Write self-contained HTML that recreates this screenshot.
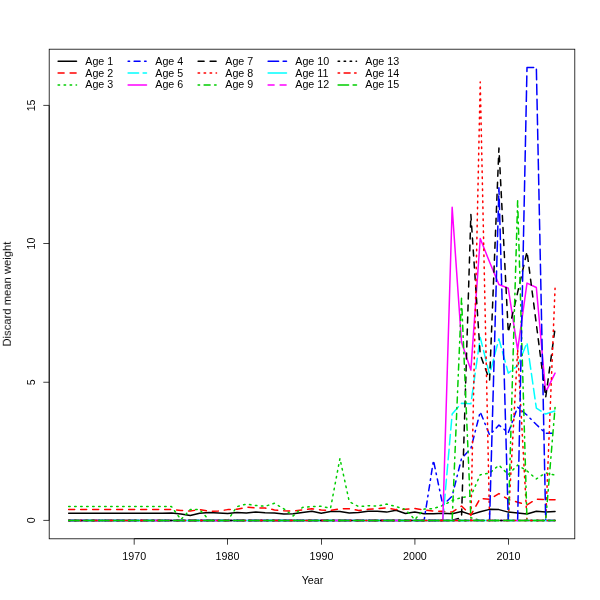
<!DOCTYPE html>
<html><head><meta charset="utf-8"><style>
html,body{margin:0;padding:0;background:#fff;}
svg{display:block;}
text{font-family:"Liberation Sans",sans-serif;font-size:10.7px;fill:#000;}
.t{opacity:0.999;}
</style></head><body>
<svg width="600" height="600" viewBox="0 0 600 600">
<rect width="600" height="600" fill="#fff"/>
<g fill="none" stroke-width="1.5" stroke-linecap="round" stroke-linejoin="round">
<polyline points="68.65,513.22 78.00,513.22 87.36,513.22 96.71,513.22 106.07,513.22 115.42,513.22 124.77,513.22 134.13,513.22 143.48,513.22 152.84,513.22 162.19,513.22 171.54,512.94 180.90,514.05 190.25,515.43 199.61,513.22 208.96,512.39 218.31,512.94 227.67,513.49 237.02,512.39 246.38,512.94 255.73,512.11 265.08,512.66 274.44,512.94 283.79,514.05 293.15,513.77 302.50,512.39 311.85,511.28 321.21,513.22 330.56,511.56 339.92,511.56 349.27,512.94 358.62,512.39 367.98,511.28 377.33,511.28 386.69,512.11 396.04,510.18 405.39,513.49 414.75,512.11 424.10,513.77 433.46,513.77 442.81,513.22 452.16,513.77 461.52,511.56 470.87,514.60 480.23,511.83 489.58,509.35 498.93,509.62 508.29,512.11 517.64,512.94 527.00,514.05 536.35,511.28 545.70,512.11 555.06,511.56" stroke="#000000"/>
<polyline points="68.65,509.62 78.00,509.62 87.36,509.62 96.71,509.62 106.07,509.62 115.42,509.62 124.77,509.62 134.13,509.62 143.48,509.62 152.84,509.62 162.19,509.62 171.54,509.62 180.90,510.45 190.25,511.01 199.61,509.62 208.96,511.28 218.31,511.01 227.67,509.62 237.02,509.35 246.38,507.14 255.73,507.97 265.08,507.97 274.44,509.90 283.79,510.73 293.15,511.01 302.50,509.90 311.85,508.80 321.21,509.90 330.56,510.45 339.92,508.80 349.27,508.80 358.62,510.45 367.98,509.35 377.33,508.52 386.69,507.97 396.04,509.62 405.39,509.35 414.75,508.52 424.10,509.90 433.46,511.01 442.81,511.28 452.16,512.11 461.52,506.03 470.87,515.15 480.23,498.30 489.58,499.40 498.93,493.60 508.29,499.40 517.64,502.16 527.00,504.93 536.35,499.12 545.70,499.68 555.06,499.68" stroke="#FF0000" stroke-dasharray="6 6"/>
<polyline points="68.65,506.58 78.00,506.58 87.36,506.58 96.71,506.58 106.07,506.58 115.42,506.58 124.77,506.58 134.13,506.58 143.48,506.58 152.84,506.58 162.19,506.58 171.54,506.58 180.90,519.57 190.25,509.62 199.61,509.62 208.96,519.85 218.31,520.40 227.67,520.40 237.02,506.58 246.38,504.10 255.73,505.48 265.08,506.31 274.44,503.27 283.79,508.80 293.15,515.98 302.50,507.41 311.85,506.58 321.21,506.31 330.56,508.24 339.92,458.51 349.27,501.61 358.62,506.58 367.98,505.76 377.33,506.03 386.69,504.10 396.04,506.58 405.39,509.35 414.75,519.57 424.10,509.07 433.46,508.52 442.81,505.48 452.16,500.51 461.52,497.47 470.87,496.09 480.23,474.81 489.58,473.15 498.93,465.14 508.29,474.53 517.64,465.14 527.00,470.94 536.35,478.95 545.70,472.88 555.06,475.09" stroke="#00CD00" stroke-dasharray="1.5 4.5"/>
<polyline points="68.65,520.40 78.00,520.40 87.36,520.40 96.71,520.40 106.07,520.40 115.42,520.40 124.77,520.40 134.13,520.40 143.48,520.40 152.84,520.40 162.19,520.40 171.54,520.40 180.90,520.40 190.25,520.40 199.61,520.40 208.96,520.40 218.31,520.40 227.67,520.40 237.02,520.40 246.38,520.40 255.73,520.40 265.08,520.40 274.44,520.40 283.79,520.40 293.15,520.40 302.50,520.40 311.85,520.40 321.21,520.40 330.56,520.40 339.92,520.40 349.27,520.40 358.62,520.40 367.98,520.40 377.33,520.40 386.69,520.40 396.04,520.40 405.39,520.40 414.75,520.40 424.10,520.40 433.46,460.44 442.81,505.20 452.16,496.09 461.52,458.51 470.87,448.56 480.23,411.81 489.58,435.02 498.93,425.08 508.29,432.81 517.64,407.12 527.00,415.13 536.35,424.52 545.70,433.37 555.06,433.09" stroke="#0000FF" stroke-dasharray="1.5 4.5 6 4.5"/>
<polyline points="68.65,520.40 78.00,520.40 87.36,520.40 96.71,520.40 106.07,520.40 115.42,520.40 124.77,520.40 134.13,520.40 143.48,520.40 152.84,520.40 162.19,520.40 171.54,520.40 180.90,520.40 190.25,520.40 199.61,520.40 208.96,520.40 218.31,520.40 227.67,520.40 237.02,520.40 246.38,520.40 255.73,520.40 265.08,520.40 274.44,520.40 283.79,520.40 293.15,520.40 302.50,520.40 311.85,520.40 321.21,520.40 330.56,520.40 339.92,520.40 349.27,520.40 358.62,520.40 367.98,520.40 377.33,520.40 386.69,520.40 396.04,520.40 405.39,520.40 414.75,520.40 424.10,520.40 433.46,520.40 442.81,520.40 452.16,414.02 461.52,403.25 470.87,403.80 480.23,337.49 489.58,374.51 498.93,338.87 508.29,373.13 517.64,365.67 527.00,342.74 536.35,408.22 545.70,414.02 555.06,410.99" stroke="#00FFFF" stroke-dasharray="10.5 4.5"/>
<polyline points="68.65,520.40 78.00,520.40 87.36,520.40 96.71,520.40 106.07,520.40 115.42,520.40 124.77,520.40 134.13,520.40 143.48,520.40 152.84,520.40 162.19,520.40 171.54,520.40 180.90,520.40 190.25,520.40 199.61,520.40 208.96,520.40 218.31,520.40 227.67,520.40 237.02,520.40 246.38,520.40 255.73,520.40 265.08,520.40 274.44,520.40 283.79,520.40 293.15,520.40 302.50,520.40 311.85,520.40 321.21,520.40 330.56,520.40 339.92,520.40 349.27,520.40 358.62,520.40 367.98,520.40 377.33,520.40 386.69,520.40 396.04,520.40 405.39,520.40 414.75,520.40 424.10,520.40 433.46,520.40 442.81,520.40 452.16,207.35 461.52,342.19 470.87,370.09 480.23,238.57 489.58,262.06 498.93,284.44 508.29,288.31 517.64,349.92 527.00,283.06 536.35,287.48 545.70,392.20 555.06,373.13" stroke="#FF00FF"/>
<polyline points="68.65,520.40 78.00,520.40 87.36,520.40 96.71,520.40 106.07,520.40 115.42,520.40 124.77,520.40 134.13,520.40 143.48,520.40 152.84,520.40 162.19,520.40 171.54,520.40 180.90,520.40 190.25,520.40 199.61,520.40 208.96,520.40 218.31,520.40 227.67,520.40 237.02,520.40 246.38,520.40 255.73,520.40 265.08,520.40 274.44,520.40 283.79,520.40 293.15,520.40 302.50,520.40 311.85,520.40 321.21,520.40 330.56,520.40 339.92,520.40 349.27,520.40 358.62,520.40 367.98,520.40 377.33,520.40 386.69,520.40 396.04,520.40 405.39,520.40 414.75,520.40 424.10,520.40 433.46,520.40 442.81,520.40 452.16,520.40 461.52,517.64 470.87,214.54 480.23,354.62 489.58,380.04 498.93,147.95 508.29,332.52 517.64,292.45 527.00,251.56 536.35,324.23 545.70,397.45 555.06,328.37" stroke="#000000" stroke-dasharray="6 6"/>
<polyline points="68.65,520.40 78.00,520.40 87.36,520.40 96.71,520.40 106.07,520.40 115.42,520.40 124.77,520.40 134.13,520.40 143.48,520.40 152.84,520.40 162.19,520.40 171.54,520.40 180.90,520.40 190.25,520.40 199.61,520.40 208.96,520.40 218.31,520.40 227.67,520.40 237.02,520.40 246.38,520.40 255.73,520.40 265.08,520.40 274.44,520.40 283.79,520.40 293.15,520.40 302.50,520.40 311.85,520.40 321.21,520.40 330.56,520.40 339.92,520.40 349.27,520.40 358.62,520.40 367.98,520.40 377.33,520.40 386.69,520.40 396.04,520.40 405.39,520.40 414.75,520.40 424.10,520.40 433.46,520.40 442.81,520.40 452.16,520.40 461.52,520.40 470.87,520.40 480.23,81.91 489.58,520.40 498.93,520.40 508.29,520.40 517.64,349.65 527.00,520.40 536.35,520.40 545.70,520.40 555.06,288.31" stroke="#FF0000" stroke-dasharray="1.5 4.5"/>
<polyline points="68.65,520.40 78.00,520.40 87.36,520.40 96.71,520.40 106.07,520.40 115.42,520.40 124.77,520.40 134.13,520.40 143.48,520.40 152.84,520.40 162.19,520.40 171.54,520.40 180.90,520.40 190.25,520.40 199.61,520.40 208.96,520.40 218.31,520.40 227.67,520.40 237.02,520.40 246.38,520.40 255.73,520.40 265.08,520.40 274.44,520.40 283.79,520.40 293.15,520.40 302.50,520.40 311.85,520.40 321.21,520.40 330.56,520.40 339.92,520.40 349.27,520.40 358.62,520.40 367.98,520.40 377.33,520.40 386.69,520.40 396.04,520.40 405.39,520.40 414.75,520.40 424.10,520.40 433.46,520.40 442.81,520.40 452.16,520.40 461.52,298.25 470.87,517.64 480.23,520.40 489.58,520.40 498.93,520.40 508.29,520.40 517.64,200.72 527.00,520.40 536.35,520.40 545.70,520.40 555.06,407.39" stroke="#00CD00" stroke-dasharray="1.5 4.5 6 4.5"/>
<polyline points="68.65,520.40 78.00,520.40 87.36,520.40 96.71,520.40 106.07,520.40 115.42,520.40 124.77,520.40 134.13,520.40 143.48,520.40 152.84,520.40 162.19,520.40 171.54,520.40 180.90,520.40 190.25,520.40 199.61,520.40 208.96,520.40 218.31,520.40 227.67,520.40 237.02,520.40 246.38,520.40 255.73,520.40 265.08,520.40 274.44,520.40 283.79,520.40 293.15,520.40 302.50,520.40 311.85,520.40 321.21,520.40 330.56,520.40 339.92,520.40 349.27,520.40 358.62,520.40 367.98,520.40 377.33,520.40 386.69,520.40 396.04,520.40 405.39,520.40 414.75,520.40 424.10,520.40 433.46,520.40 442.81,520.40 452.16,520.40 461.52,520.40 470.87,520.40 480.23,520.40 489.58,520.40 498.93,187.73 508.29,520.40 517.64,520.40 527.00,67.54 536.35,67.54 545.70,520.40 555.06,520.40" stroke="#0000FF" stroke-dasharray="10.5 4.5"/>
<polyline points="68.65,520.40 78.00,520.40 87.36,520.40 96.71,520.40 106.07,520.40 115.42,520.40 124.77,520.40 134.13,520.40 143.48,520.40 152.84,520.40 162.19,520.40 171.54,520.40 180.90,520.40 190.25,520.40 199.61,520.40 208.96,520.40 218.31,520.40 227.67,520.40 237.02,520.40 246.38,520.40 255.73,520.40 265.08,520.40 274.44,520.40 283.79,520.40 293.15,520.40 302.50,520.40 311.85,520.40 321.21,520.40 330.56,520.40 339.92,520.40 349.27,520.40 358.62,520.40 367.98,520.40 377.33,520.40 386.69,520.40 396.04,520.40 405.39,520.40 414.75,520.40 424.10,520.40 433.46,520.40 442.81,520.40 452.16,520.40 461.52,520.40 470.87,520.40 480.23,520.40 489.58,520.40 498.93,520.40 508.29,520.40 517.64,520.40 527.00,520.40 536.35,520.40 545.70,520.40 555.06,520.40" stroke="#00FFFF"/>
<polyline points="68.65,520.40 78.00,520.40 87.36,520.40 96.71,520.40 106.07,520.40 115.42,520.40 124.77,520.40 134.13,520.40 143.48,520.40 152.84,520.40 162.19,520.40 171.54,520.40 180.90,520.40 190.25,520.40 199.61,520.40 208.96,520.40 218.31,520.40 227.67,520.40 237.02,520.40 246.38,520.40 255.73,520.40 265.08,520.40 274.44,520.40 283.79,520.40 293.15,520.40 302.50,520.40 311.85,520.40 321.21,520.40 330.56,520.40 339.92,520.40 349.27,520.40 358.62,520.40 367.98,520.40 377.33,520.40 386.69,520.40 396.04,520.40 405.39,520.40 414.75,520.40 424.10,520.40 433.46,520.40 442.81,520.40 452.16,520.40 461.52,520.40 470.87,520.40 480.23,520.40 489.58,520.40 498.93,520.40 508.29,520.40 517.64,520.40 527.00,520.40 536.35,520.40 545.70,520.40 555.06,520.40" stroke="#FF00FF" stroke-dasharray="6 6"/>
<polyline points="68.65,520.40 78.00,520.40 87.36,520.40 96.71,520.40 106.07,520.40 115.42,520.40 124.77,520.40 134.13,520.40 143.48,520.40 152.84,520.40 162.19,520.40 171.54,520.40 180.90,520.40 190.25,520.40 199.61,520.40 208.96,520.40 218.31,520.40 227.67,520.40 237.02,520.40 246.38,520.40 255.73,520.40 265.08,520.40 274.44,520.40 283.79,520.40 293.15,520.40 302.50,520.40 311.85,520.40 321.21,520.40 330.56,520.40 339.92,520.40 349.27,520.40 358.62,520.40 367.98,520.40 377.33,520.40 386.69,520.40 396.04,520.40 405.39,520.40 414.75,520.40 424.10,520.40 433.46,520.40 442.81,520.40 452.16,520.40 461.52,520.40 470.87,520.40 480.23,520.40 489.58,520.40 498.93,520.40 508.29,520.40 517.64,520.40 527.00,520.40 536.35,520.40 545.70,520.40 555.06,520.40" stroke="#000000" stroke-dasharray="1.5 4.5"/>
<polyline points="68.65,520.40 78.00,520.40 87.36,520.40 96.71,520.40 106.07,520.40 115.42,520.40 124.77,520.40 134.13,520.40 143.48,520.40 152.84,520.40 162.19,520.40 171.54,520.40 180.90,520.40 190.25,520.40 199.61,520.40 208.96,520.40 218.31,520.40 227.67,520.40 237.02,520.40 246.38,520.40 255.73,520.40 265.08,520.40 274.44,520.40 283.79,520.40 293.15,520.40 302.50,520.40 311.85,520.40 321.21,520.40 330.56,520.40 339.92,520.40 349.27,520.40 358.62,520.40 367.98,520.40 377.33,520.40 386.69,520.40 396.04,520.40 405.39,520.40 414.75,520.40 424.10,520.40 433.46,520.40 442.81,520.40 452.16,520.40 461.52,520.40 470.87,520.40 480.23,520.40 489.58,520.40 498.93,520.40 508.29,520.40 517.64,520.40 527.00,520.40 536.35,520.40 545.70,520.40 555.06,520.40" stroke="#FF0000" stroke-dasharray="1.5 4.5 6 4.5"/>
<polyline points="68.65,520.40 78.00,520.40 87.36,520.40 96.71,520.40 106.07,520.40 115.42,520.40 124.77,520.40 134.13,520.40 143.48,520.40 152.84,520.40 162.19,520.40 171.54,520.40 180.90,520.40 190.25,520.40 199.61,520.40 208.96,520.40 218.31,520.40 227.67,520.40 237.02,520.40 246.38,520.40 255.73,520.40 265.08,520.40 274.44,520.40 283.79,520.40 293.15,520.40 302.50,520.40 311.85,520.40 321.21,520.40 330.56,520.40 339.92,520.40 349.27,520.40 358.62,520.40 367.98,520.40 377.33,520.40 386.69,520.40 396.04,520.40 405.39,520.40 414.75,520.40 424.10,520.40 433.46,520.40 442.81,520.40 452.16,520.40 461.52,520.40 470.87,520.40 480.23,520.40 489.58,520.40 498.93,520.40 508.29,520.40 517.64,520.40 527.00,520.40 536.35,520.40 545.70,520.40 555.06,520.40" stroke="#00CD00" stroke-dasharray="10.5 4.5"/>
</g>
<g fill="none" stroke-width="1.5" stroke-linecap="round">
<line x1="58.1" y1="61.3" x2="76.5" y2="61.3" stroke="#000000"/>
<line x1="58.1" y1="73.1" x2="76.5" y2="73.1" stroke="#FF0000" stroke-dasharray="6 6"/>
<line x1="58.1" y1="84.9" x2="76.5" y2="84.9" stroke="#00CD00" stroke-dasharray="1.5 4.5"/>
<line x1="128.1" y1="61.3" x2="146.5" y2="61.3" stroke="#0000FF" stroke-dasharray="1.5 4.5 6 4.5"/>
<line x1="128.1" y1="73.1" x2="146.5" y2="73.1" stroke="#00FFFF" stroke-dasharray="10.5 4.5"/>
<line x1="128.1" y1="84.9" x2="146.5" y2="84.9" stroke="#FF00FF"/>
<line x1="198.1" y1="61.3" x2="216.5" y2="61.3" stroke="#000000" stroke-dasharray="6 6"/>
<line x1="198.1" y1="73.1" x2="216.5" y2="73.1" stroke="#FF0000" stroke-dasharray="1.5 4.5"/>
<line x1="198.1" y1="84.9" x2="216.5" y2="84.9" stroke="#00CD00" stroke-dasharray="1.5 4.5 6 4.5"/>
<line x1="268.1" y1="61.3" x2="286.5" y2="61.3" stroke="#0000FF" stroke-dasharray="10.5 4.5"/>
<line x1="268.1" y1="73.1" x2="286.5" y2="73.1" stroke="#00FFFF"/>
<line x1="268.1" y1="84.9" x2="286.5" y2="84.9" stroke="#FF00FF" stroke-dasharray="6 6"/>
<line x1="338.1" y1="61.3" x2="356.5" y2="61.3" stroke="#000000" stroke-dasharray="1.5 4.5"/>
<line x1="338.1" y1="73.1" x2="356.5" y2="73.1" stroke="#FF0000" stroke-dasharray="1.5 4.5 6 4.5"/>
<line x1="338.1" y1="84.9" x2="356.5" y2="84.9" stroke="#00CD00" stroke-dasharray="10.5 4.5"/>
</g>
<g class="t">
<text x="85.3" y="64.7">Age 1</text>
<text x="85.3" y="76.5">Age 2</text>
<text x="85.3" y="88.30000000000001">Age 3</text>
<text x="155.29999999999998" y="64.7">Age 4</text>
<text x="155.29999999999998" y="76.5">Age 5</text>
<text x="155.29999999999998" y="88.30000000000001">Age 6</text>
<text x="225.29999999999998" y="64.7">Age 7</text>
<text x="225.29999999999998" y="76.5">Age 8</text>
<text x="225.29999999999998" y="88.30000000000001">Age 9</text>
<text x="295.3" y="64.7">Age 10</text>
<text x="295.3" y="76.5">Age 11</text>
<text x="295.3" y="88.30000000000001">Age 12</text>
<text x="365.3" y="64.7">Age 13</text>
<text x="365.3" y="76.5">Age 14</text>
<text x="365.3" y="88.30000000000001">Age 15</text>
<rect x="49.2" y="49.2" width="525.6" height="489.6" fill="none" stroke="#000" stroke-width="0.8"/>
<line x1="49.2" y1="520.4" x2="49.2" y2="105.4" stroke="#000" stroke-width="0.8"/>
<line x1="134.2" y1="538.6" x2="508.5" y2="538.6" stroke="#000" stroke-width="0.8"/>
<g stroke="#000" stroke-width="0.75" fill="none">
<line x1="134.20" y1="538.8" x2="134.20" y2="544.7"/>
<line x1="227.50" y1="538.8" x2="227.50" y2="544.7"/>
<line x1="321.50" y1="538.8" x2="321.50" y2="544.7"/>
<line x1="414.90" y1="538.8" x2="414.90" y2="544.7"/>
<line x1="508.50" y1="538.8" x2="508.50" y2="544.7"/>
<line x1="43.3" y1="520.40" x2="49.2" y2="520.40"/>
<line x1="43.3" y1="382.25" x2="49.2" y2="382.25"/>
<line x1="43.3" y1="243.50" x2="49.2" y2="243.50"/>
<line x1="43.3" y1="105.40" x2="49.2" y2="105.40"/>
</g>
<text x="134.20" y="559.8" text-anchor="middle">1970</text>
<text x="227.50" y="559.8" text-anchor="middle">1980</text>
<text x="321.50" y="559.8" text-anchor="middle">1990</text>
<text x="414.90" y="559.8" text-anchor="middle">2000</text>
<text x="508.50" y="559.8" text-anchor="middle">2010</text>
<text transform="translate(35,520.40) rotate(-90)" text-anchor="middle">0</text>
<text transform="translate(35,382.25) rotate(-90)" text-anchor="middle">5</text>
<text transform="translate(35,243.50) rotate(-90)" text-anchor="middle">10</text>
<text transform="translate(35,105.40) rotate(-90)" text-anchor="middle">15</text>
<text x="312.5" y="583.5" text-anchor="middle">Year</text>
<text transform="translate(10.8,294) rotate(-90)" text-anchor="middle" textLength="105" lengthAdjust="spacingAndGlyphs">Discard mean weight</text>
</g>
</svg>
</body></html>
